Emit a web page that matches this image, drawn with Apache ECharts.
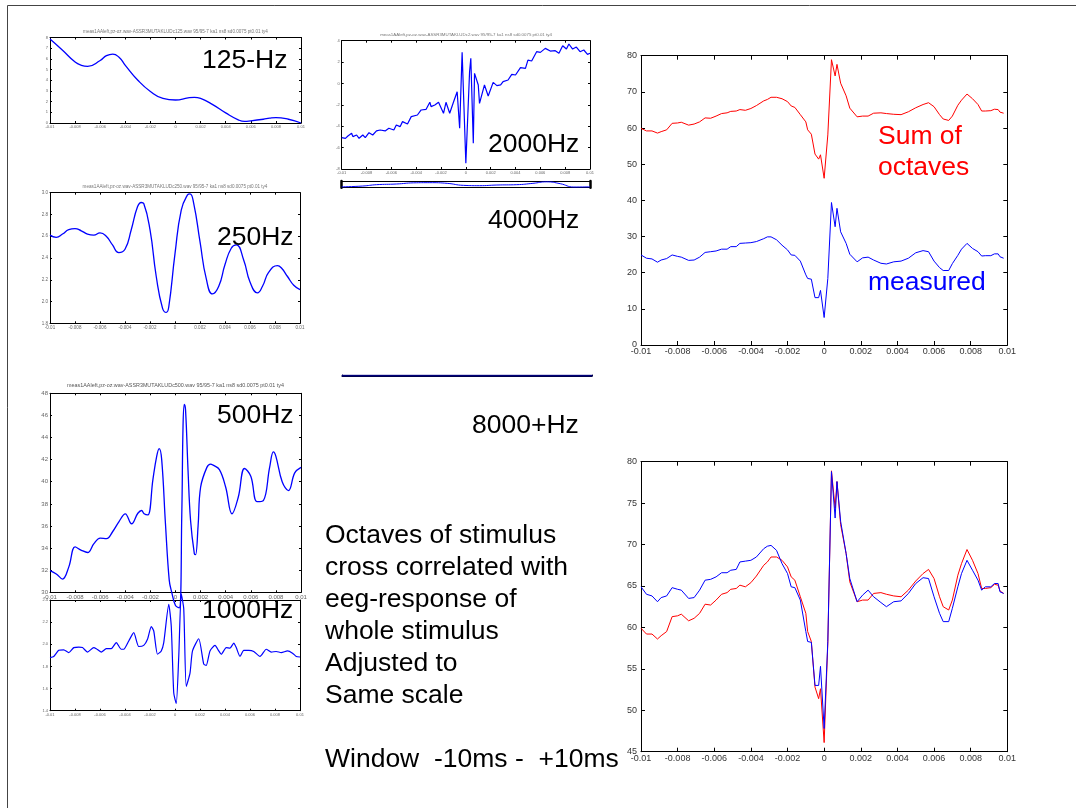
<!DOCTYPE html>
<html><head><meta charset="utf-8">
<script src="https://cdn.jsdelivr.net/npm/echarts@6/dist/echarts.min.js"></script>
<style>html,body{margin:0;padding:0;background:#fff}#c{width:1076px;height:808px}</style>
</head><body><div id="c"></div>
<script>
// ---------- data (time in s) ----------
const t125 = [-0.01,-0.009,-0.008,-0.0075,-0.007,-0.006,-0.0055,-0.005,-0.0045,-0.004,-0.003,-0.002,-0.001,0,0.001,0.0015,0.002,0.003,0.004,0.005,0.0055,0.006,0.007,0.0075,0.008,0.009,0.01];
const v125 = [7.85,6.8,5.7,5.4,5.3,5.85,6.3,6.45,6.15,5.4,4.0,2.95,2.3,2.15,2.35,2.4,2.3,1.7,0.95,0.3,0.15,0.2,0.35,0.45,0.5,0.35,0];

const t250 = [-0.01,-0.0095,-0.009,-0.0085,-0.008,-0.0075,-0.007,-0.0065,-0.006,-0.0055,-0.005,-0.0045,-0.004,-0.0035,-0.003,-0.0027,-0.0025,-0.002,-0.0015,-0.001,-0.0007,-0.0005,0,0.0005,0.001,0.0012,0.0015,0.002,0.0025,0.003,0.0035,0.004,0.0045,0.0049,0.0055,0.006,0.0066,0.007,0.0075,0.0082,0.0085,0.009,0.0095,0.01];
const v250 = [2.61,2.59,2.62,2.66,2.67,2.65,2.62,2.61,2.63,2.60,2.52,2.45,2.48,2.66,2.87,2.91,2.90,2.66,2.23,1.94,1.90,1.95,2.44,2.84,2.98,2.99,2.90,2.55,2.21,2.07,2.14,2.34,2.49,2.52,2.38,2.18,2.08,2.14,2.27,2.33,2.31,2.23,2.15,2.11];

const t500 = [-0.01,-0.0095,-0.009,-0.0085,-0.008,-0.0075,-0.007,-0.0065,-0.006,-0.0055,-0.005,-0.0045,-0.004,-0.0035,-0.003,-0.0027,-0.0025,-0.0022,-0.0018,-0.0015,-0.0013,-0.0011,-0.0008,-0.0005,-0.0003,0,0.0003,0.0005,0.0006,0.0007,0.0008,0.001,0.0012,0.0015,0.0016,0.0018,0.002,0.0025,0.0028,0.003,0.0035,0.004,0.0045,0.005,0.0055,0.006,0.0065,0.007,0.0075,0.0078,0.008,0.0085,0.009,0.0095,0.01];
const v500 = [31.96,31.66,31.2,32.3,34.1,33.8,33.6,34.4,34.9,34.85,35.5,36.4,37.1,36.2,37.15,37.4,37.1,37.0,40.2,42.3,43.0,42.0,36.2,31.1,30.0,28.8,28.6,37,45,47.0,46.5,41,36.5,33.5,33.4,36,39.5,41.3,41.6,41.5,41.1,39.5,37.1,38.6,41.2,40.5,38.2,38.3,41.3,42.7,42.3,40.0,39.2,40.8,41.3];

const t1000 = [-0.01,-0.0097,-0.0093,-0.0089,-0.0085,-0.0081,-0.0077,-0.0074,-0.007,-0.0065,-0.0063,-0.0059,-0.0055,-0.0051,-0.0047,-0.0043,-0.0041,-0.0037,-0.0033,-0.0029,-0.0025,-0.0022,-0.0019,-0.0017,-0.0014,-0.0011,-0.0009,-0.0005,-0.0003,-0.0001,0.0001,0.0003,0.0005,0.0007,0.0009,0.0012,0.0014,0.0019,0.0023,0.0025,0.0028,0.0032,0.0035,0.0037,0.0041,0.0044,0.0047,0.0049,0.0052,0.0055,0.0059,0.0063,0.0068,0.0073,0.0077,0.0081,0.0085,0.009,0.0094,0.0097,0.01];
const v1000 = [1.88,1.89,1.945,1.95,1.925,1.97,1.975,1.97,1.93,1.97,1.96,1.93,1.96,1.96,2.015,1.955,1.955,2.03,2.105,1.98,1.99,2.045,2.16,2.12,1.91,1.94,2.015,2.36,2.165,1.56,1.465,1.89,2.455,2.32,1.62,1.74,1.94,2.05,1.82,1.81,1.94,1.99,1.94,1.91,1.97,1.965,2.01,1.97,1.89,1.945,1.945,1.935,1.89,1.955,1.93,1.935,1.925,1.94,1.92,1.89,1.885];

const t2000 = [-0.01,-0.0097,-0.0095,-0.0092,-0.0091,-0.0088,-0.0086,-0.0083,-0.0081,-0.0078,-0.0075,-0.0072,-0.0069,-0.0065,-0.0062,-0.0058,-0.0056,-0.0053,-0.0051,-0.0047,-0.0044,-0.0039,-0.0036,-0.0032,-0.0029,-0.0028,-0.0025,-0.0022,-0.0018,-0.0016,-0.0013,-0.001,-0.0007,-0.0005,-0.0003,0,0.0003,0.0004,0.0006,0.0007,0.001,0.0011,0.0015,0.0018,0.0022,0.0025,0.0028,0.003,0.0034,0.0037,0.004,0.0044,0.0048,0.005,0.0053,0.0057,0.006,0.0064,0.0068,0.0072,0.0075,0.0078,0.0081,0.0083,0.0086,0.0089,0.0092,0.0095,0.0098,0.01];
const v2000 = [-5.07,-5.13,-4.91,-4.66,-4.97,-4.82,-5.13,-4.82,-5.07,-4.6,-4.82,-4.44,-4.35,-4.44,-4.19,-4.35,-3.88,-4.04,-3.57,-3.79,-3.1,-2.95,-2.48,-2.42,-1.76,-2.17,-2.01,-1.76,-2.79,-1.76,-2.79,-1.76,-0.77,-4.19,2.91,-7.46,1.1,2.35,-5.6,0.95,-0.14,-1.86,-0.14,-1.17,0.1,-0.2,-0.14,0.17,0.32,0.85,0.79,1.48,1.41,2.19,2.1,2.97,2.91,3.28,3.03,3.07,2.82,3.53,3.22,3.69,3.22,3.41,2.97,3.13,2.72,2.82];

const t4000 = [-0.01,-0.0083,-0.0072,-0.0056,-0.0042,-0.0029,-0.0015,-0.0002,0.0011,0.0025,0.0041,0.0054,0.0065,0.0076,0.0087,0.01];
const v4000 = [-0.75,-0.5,-0.1,0.1,0.45,0.5,0.3,-0.3,-0.4,-0.2,-0.1,0.3,0.75,0.2,-0.8,-0.75];

const t8000 = [-0.01,0.01];
const v8000 = [0,0];

const tR = [-0.01,-0.0097,-0.0094,-0.0091,-0.0089,-0.0086,-0.0083,-0.008,-0.0078,-0.0074,-0.0071,-0.0068,-0.0065,-0.0062,-0.0059,-0.0056,-0.0053,-0.0051,-0.0048,-0.0046,-0.0043,-0.004,-0.0037,-0.0033,-0.0031,-0.0029,-0.0026,-0.0023,-0.002,-0.0018,-0.0016,-0.0013,-0.001,-0.0009,-0.0007,-0.0005,-0.0003,-0.0002,0,0.0002,0.0004,0.0006,0.0007,0.0009,0.0012,0.0014,0.0018,0.0021,0.0024,0.0027,0.0031,0.0034,0.0038,0.0042,0.0046,0.005,0.0054,0.0057,0.006,0.0063,0.0065,0.0068,0.007,0.0073,0.0075,0.0078,0.0081,0.0084,0.0086,0.0088,0.0091,0.0093,0.0095,0.0096,0.0098];
const sumOctaves = [59.9,59.2,59.2,58.6,59.0,59.5,61.3,61.4,61.6,60.8,61.1,61.7,62.8,62.7,63.3,64.0,64.2,64.6,64.7,65.1,64.9,65.4,66.2,67.5,67.9,68.5,68.5,68.1,67.3,66.1,65.7,63.7,61.7,59.5,58.3,52.8,51.4,52.6,46.1,58.1,78.9,74.4,77.6,72.4,68.9,65.5,63.1,63.3,63.3,64.1,64.2,64.0,63.8,63.7,64.5,65.6,66.5,67.0,65.9,63.7,62.5,62.1,63.3,66.3,67.7,69.4,68.1,66.5,64.7,64.7,64.8,65.2,65.1,64.4,64.1];
const measuredTop = [24.9,24.0,23.8,22.9,23.5,23.9,24.9,24.5,24.3,23.4,23.5,24.3,25.6,25.8,26.0,26.5,26.5,27.2,27.2,28.1,28.2,28.3,28.6,29.4,29.9,29.9,29.1,27.6,26.3,24.9,24.8,23.2,19.4,18.4,18.2,13.1,13.1,15.1,7.6,18.4,39.4,32.7,37.8,31.3,28.1,25.1,23.0,24.1,24.3,23.5,22.6,22.4,23.0,23.2,24.0,25.5,26.1,25.8,23.2,21.4,20.6,20.6,22.5,24.8,26.5,28.1,26.7,25.8,24.6,24.7,24.7,25.2,25.2,24.4,24.0];
const measured = [64.9,64.0,63.8,63.1,63.6,63.8,64.8,64.6,64.5,63.5,63.6,64.5,65.7,65.8,66.1,66.6,66.6,66.9,67.0,67.9,68.0,68.1,68.5,69.5,69.8,69.9,69.3,67.7,66.5,64.9,64.8,63.3,59.5,58.3,58.2,53.0,53.0,55.3,47.8,58.3,78.8,73.2,77.6,72.8,68.9,65.9,63.1,63.9,64.5,63.7,63.0,62.5,63.1,63.2,64.1,65.3,66.0,65.9,63.7,61.7,60.7,60.7,62.3,64.9,66.5,68.1,66.9,65.7,64.5,64.9,64.9,65.3,65.3,64.3,64.1];

const panelTitles = [
  'meas1AAleft,pz-oz.wav-ASSR3MUTAKLUDc125.wav 95/95-7 ka1 ns8 sd0.0075 pt0.01 ty4',
  'meas1AAleft,pz-oz.wav-ASSR3MUTAKLUDc250.wav 95/95-7 ka1 ns8 sd0.0075 pt0.01 ty4',
  'meas1AAleft,pz-oz.wav-ASSR3MUTAKLUDc500.wav 95/95-7 ka1 ns8 sd0.0075 pt0.01 ty4',
  'meas1AAleft,pz-oz.wav-ASSR3MUTAKLUDc2.wav 95/95-7 ka1 ns8 sd0.0075 pt0.01 ty4'
];
const bandLabels = ['125-Hz','250Hz','500Hz','1000Hz','2000Hz','4000Hz','8000+Hz'];
const noteLines = ['Octaves of stimulus','cross correlated with','eeg-response of','whole stimulus','Adjusted to','Same scale','','Window  -10ms -  +10ms'];

// ---------- build ----------
const FONT = '"Liberation Sans", Arial, Helvetica, sans-serif';
const zip = (t, v) => t.map((x, i) => [x, v[i]]);
const fmtX = v => String(Number(v.toFixed(4)));
const grids = [], xAxes = [], yAxes = [], series = [];
const BLUE = '#0000ff', RED = '#ff0000';

function addPanel(p) {
  const gi = grids.length;
  grids.push({left: p.left, top: p.top, width: p.width, height: p.height, show: false});
  const tick = {show: p.tickLen > 0, inside: true, length: p.tickLen, lineStyle: {color: '#000', width: 1}};
  const xl = {show: true, onZero: false, lineStyle: {color: p.axisColor || '#000', width: 1}};
  const yl = {show: true, onZero: false, lineStyle: {color: p.axisColor || '#000', width: p.yLineW || 1}};
  const xi = xAxes.length;
  xAxes.push({type: 'value', gridIndex: gi, position: 'bottom', min: -0.01, max: 0.01, interval: 0.002,
    axisLine: xl, axisTick: tick, splitLine: {show: false},
    axisLabel: {show: p.xLabels !== false, fontSize: p.fs, color: p.lc, margin: p.xm, formatter: fmtX, fontFamily: FONT, showMinLabel: true, showMaxLabel: true}});
  xAxes.push({type: 'value', gridIndex: gi, position: 'top', min: -0.01, max: 0.01, interval: 0.002,
    axisLine: xl, axisTick: tick, splitLine: {show: false}, axisLabel: {show: false}});
  const yi = yAxes.length;
  yAxes.push({type: 'value', gridIndex: gi, position: 'left', min: p.ymin, max: p.ymax, interval: p.yint,
    axisLine: yl, axisTick: tick, splitLine: {show: false},
    axisLabel: {show: p.yLabels !== false, fontSize: p.fs, color: p.lc, margin: p.ym, formatter: p.yfmt, fontFamily: FONT, showMinLabel: true, showMaxLabel: true}});
  yAxes.push({type: 'value', gridIndex: gi, position: 'right', min: p.ymin, max: p.ymax, interval: p.yint,
    axisLine: yl, axisTick: tick, splitLine: {show: false}, axisLabel: {show: false}});
  p.lines.forEach(l => series.push({
    type: 'line', xAxisIndex: xi, yAxisIndex: yi, data: zip(l.t, l.v),
    showSymbol: false, symbol: 'none', smooth: l.smooth || false, clip: l.clip !== false,
    lineStyle: {color: l.color, width: l.width || 1}, silent: true, animation: false, z: 3
  }));
}
const small = {fs: 4.5, lc: '#666', xm: 2, ym: 2, tickLen: 2};

addPanel(Object.assign({}, small, {left: 50, top: 37.5, width: 251, height: 85.5, ymin: 0, ymax: 8, yint: 1, fs: 4,
  lines: [{t: t125, v: v125, color: BLUE, width: 1.3, smooth: 0.5}]}));
addPanel(Object.assign({}, small, {left: 50, top: 192.7, width: 250, height: 130.6, ymin: 1.8, ymax: 3.0, yint: 0.2, yfmt: v => v.toFixed(1),
  lines: [{t: t250, v: v250, color: BLUE, width: 1.3, smooth: 0.5}]}));
addPanel(Object.assign({}, small, {left: 50, top: 393.3, width: 251, height: 199, ymin: 30, ymax: 48, yint: 2, fs: 6,
  lines: [{t: t500, v: v500, color: BLUE, width: 1.3, smooth: 0.4, clip: false}]}));
addPanel(Object.assign({}, small, {left: 50, top: 600, width: 250, height: 110.7, ymin: 1.4, ymax: 2.4, yint: 0.2, fs: 4, yfmt: v => v.toFixed(1),
  lines: [{t: t1000, v: v1000, color: BLUE, width: 1.2, smooth: 0.2, clip: false}]}));
addPanel(Object.assign({}, small, {left: 341.7, top: 40.7, width: 248.3, height: 128.3, ymin: -8, ymax: 4, yint: 2, fs: 4,
  lines: [{t: t2000, v: v2000, color: BLUE, width: 1.2}]}));
addPanel(Object.assign({}, small, {left: 341.7, top: 181, width: 248.3, height: 6.7, ymin: -1, ymax: 1, yint: 1, tickLen: 0,
  xLabels: false, yLabels: false, yLineW: 2.5,
  lines: [{t: t4000, v: v4000, color: BLUE, width: 1, smooth: 0.5}]}));
addPanel(Object.assign({}, small, {left: 342, top: 375, width: 250, height: 1, ymin: -1, ymax: 1, yint: 1, tickLen: 0,
  xLabels: false, yLabels: false, axisColor: '#000040',
  lines: [{t: t8000, v: v8000, color: '#00007a', width: 1.5}]}));
const big = {fs: 9, lc: '#333', xm: 2, ym: 4, tickLen: 4};
addPanel(Object.assign({}, big, {left: 641, top: 55.7, width: 366.3, height: 289.3, ymin: 0, ymax: 80, yint: 10,
  lines: [{t: tR, v: sumOctaves, color: RED}, {t: tR, v: measuredTop, color: BLUE}]}));
addPanel(Object.assign({}, big, {left: 641, top: 461.7, width: 366.3, height: 290, ymin: 45, ymax: 80, yint: 5,
  lines: [{t: tR, v: sumOctaves, color: RED}, {t: tR, v: measured, color: BLUE}]}));

// ---------- texts ----------
const BIG = '26.5px ' + FONT;
const txt = (text, x, y, fill, font, align) => ({type: 'text', z: 10, silent: true,
  style: {text: text, x: x, y: y, fill: fill || '#000', font: font || BIG, textAlign: align || 'left', textVerticalAlign: 'middle'}});
const graphics = [
  {type: 'rect', silent: true, z: 0, shape: {x: 7.5, y: 5.5, width: 1200, height: 1000}, style: {fill: 'none', stroke: '#444', lineWidth: 1}},
  txt(bandLabels[0], 202, 61), txt(bandLabels[1], 217, 238), txt(bandLabels[2], 217, 416), txt(bandLabels[3], 202, 611),
  txt(bandLabels[4], 488, 145), txt(bandLabels[5], 488, 221), txt(bandLabels[6], 472, 426),
  txt('Sum of', 878, 137, RED), txt('octaves', 878, 168, RED), txt('measured', 868, 283, BLUE),
  txt(panelTitles[0], 175.5, 32, '#777', '4.6px ' + FONT, 'center'),
  txt(panelTitles[1], 175, 186.5, '#777', '4.6px ' + FONT, 'center'),
  txt(panelTitles[2], 175.5, 385.5, '#555', '5.4px ' + FONT, 'center'),
  txt(panelTitles[3], 466, 35, '#777', '4.4px ' + FONT, 'center')
];
noteLines.forEach((s, i) => { if (s) graphics.push(txt(s, 325, 536 + 32 * i)); });

const chart = echarts.init(document.getElementById('c'), null, {renderer: 'canvas'});
chart.setOption({
  animation: false,
  backgroundColor: '#fff',
  grid: grids, xAxis: xAxes, yAxis: yAxes, series: series,
  graphic: graphics
});
</script></body></html>
